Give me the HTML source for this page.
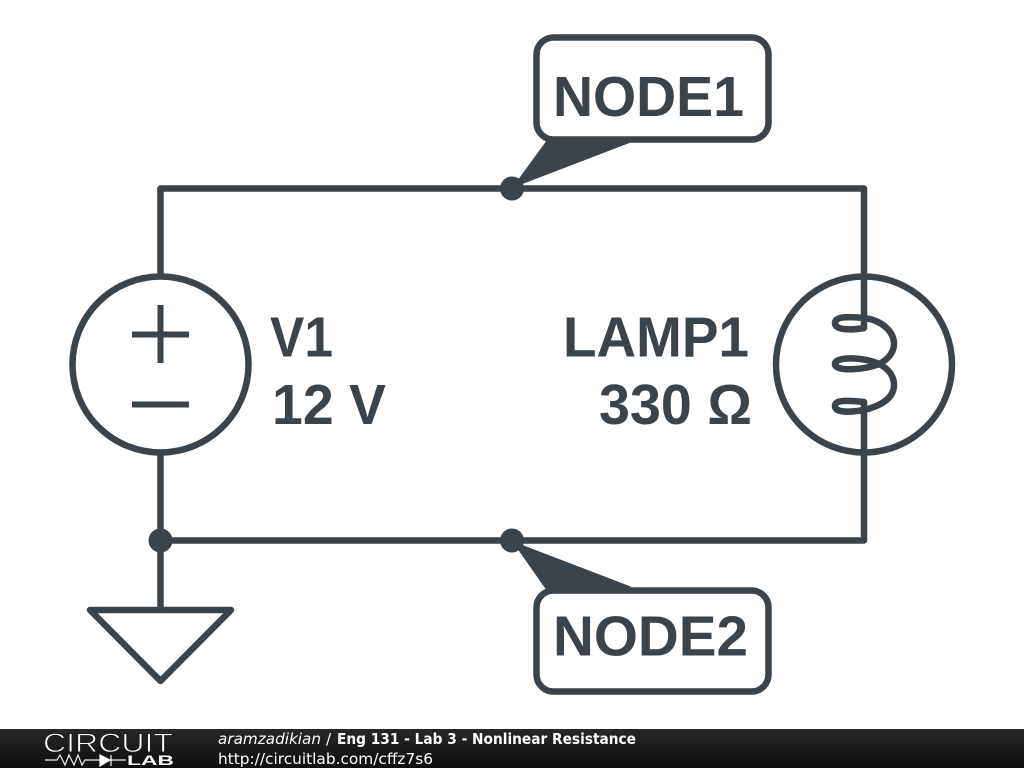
<!DOCTYPE html>
<html><head><meta charset="utf-8"><style>
html,body{margin:0;padding:0;background:#fff;width:1024px;height:768px;overflow:hidden}
svg{display:block}
.l{font-family:"Liberation Sans",Arial,sans-serif;font-weight:700;fill:#3b444b;font-size:57px}
.f{font-family:"DejaVu Sans",sans-serif;fill:#fff;font-size:15.3px}
</style></head><body>
<svg width="1024" height="768" viewBox="0 0 1024 768" xmlns="http://www.w3.org/2000/svg">
<defs><linearGradient id="g" x1="0" y1="0" x2="0" y2="1"><stop offset="0" stop-color="#272727"/><stop offset="1" stop-color="#0e0e0e"/></linearGradient></defs>
<g fill="none" stroke="#3b444b" stroke-width="6.5" stroke-linejoin="round">
<path d="M160.5 275V188.5H864V275M864 275V328M864 402V540.5H160.5M160.5 455V610" stroke-linecap="round"/>
<circle cx="160.5" cy="364.5" r="88"/>
<circle cx="864" cy="364.5" r="88"/>
<path d="M160.5 305V363M132 334.5H189M132 404.5H189" stroke-width="6"/>
<path d="M90 610H231L160.5 681Z"/>
<path d="M864 328C846 331 835 329 835 323C835 317 846 316 864 318C881 320 894 331 894 344C894 353 887 360 879 364C865 370 835 372 835 364C835 356 865 357 879 364C887 368 894 375 894 385C894 398 881 406 864 410C846 413 835 412 835 406C835 400 846 400 864 402"/>
<rect x="536.5" y="37.5" width="232" height="102" rx="17"/>
<rect x="536.5" y="590.5" width="232" height="101" rx="17"/>
</g>
<g fill="#3b444b">
<circle cx="512" cy="188.5" r="12"/><circle cx="512" cy="540.5" r="12"/><circle cx="160.5" cy="540.5" r="12"/>
<path d="M512 188L547 140H600L632 142Z"/>
<path d="M512 541L547 591H600L632 587Z"/>
</g>
<text class="l" x="553" y="116" textLength="191" lengthAdjust="spacingAndGlyphs">NODE1</text>
<text class="l" x="553" y="655.5" textLength="195" lengthAdjust="spacingAndGlyphs">NODE2</text>
<text class="l" x="270" y="356.5" textLength="63" lengthAdjust="spacingAndGlyphs">V1</text>
<text class="l" x="272" y="424" textLength="114" lengthAdjust="spacingAndGlyphs">12 V</text>
<text class="l" x="563" y="356.5" textLength="186" lengthAdjust="spacingAndGlyphs">LAMP1</text>
<text class="l" x="599" y="424" textLength="153" lengthAdjust="spacingAndGlyphs">330 Ω</text>
<rect x="0" y="729" width="1024" height="39" fill="url(#g)"/>
<text x="43" y="752" font-family="Liberation Sans,sans-serif" font-size="27" fill="#fff" stroke="#1d1d1d" stroke-width="0.9" textLength="130" lengthAdjust="spacingAndGlyphs">CIRCUIT</text>
<text x="127" y="765" font-family="Liberation Sans,sans-serif" font-size="14" font-weight="700" fill="#fff" textLength="47" lengthAdjust="spacingAndGlyphs">LAB</text>
<path d="M45 760H57L60 755L65 765L69 755L74 765L78 755L82 765L85 760H126" fill="none" stroke="#eee" stroke-width="1.2"/>
<path d="M100 755L110 760L100 766Z M111 755V766" fill="#fff" stroke="#fff" stroke-width="1.2"/>
<text class="f" x="218" y="744" font-style="italic" textLength="103" lengthAdjust="spacingAndGlyphs">aramzadikian</text>
<text class="f" x="326" y="744">/</text>
<text class="f" x="337" y="744" font-weight="700" textLength="299" lengthAdjust="spacingAndGlyphs">Eng 131 - Lab 3 - Nonlinear Resistance</text>
<text class="f" x="218" y="764" textLength="215" lengthAdjust="spacingAndGlyphs">http://circuitlab.com/cffz7s6</text>
</svg>
</body></html>
